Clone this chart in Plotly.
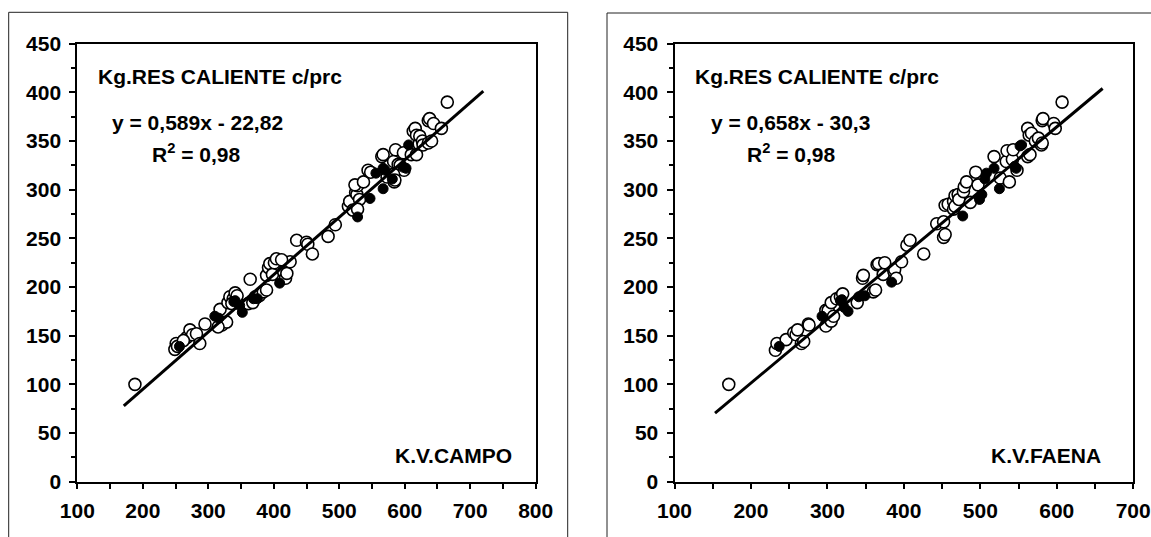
import plotly.graph_objects as go

# ---------------- data ----------------
# Left panel: K.V.CAMPO (x) vs Kg.RES CALIENTE c/prc (y)
campo_open_x = [188, 251, 249, 253, 267, 272, 276, 282, 287, 262, 295, 318, 321, 328, 315,
                330, 333, 338, 341, 343, 336, 344, 364, 361, 368, 372, 378, 384, 389,
                389, 392, 394, 398, 401, 404, 415, 418, 420, 425, 412, 435, 450, 452, 459,
                483, 494, 514, 516, 521, 525, 527, 528, 531, 528, 524,
                537, 544, 548, 565, 567, 573, 584, 583, 586, 590, 593, 598,
                599, 583, 585, 610, 618, 613, 616, 618, 622, 623, 627, 628, 636, 636,
                638, 641, 644, 656, 665]
campo_open_y = [100, 142, 136, 139, 148, 156, 151, 152, 142, 145, 162, 177, 161, 164, 159,
                184, 190, 188, 194, 187, 183, 191, 208, 183, 184, 190, 191, 195, 197,
                212, 220, 224, 213, 225, 229, 216, 209, 214, 226, 228, 248, 246, 244, 234,
                252, 264, 283, 288, 279, 297, 295, 304, 290, 280, 305,
                308, 320, 318, 334, 336, 313, 308, 329, 341, 326, 325, 338,
                320, 316, 310, 336, 336, 360, 363, 356, 347, 355, 350, 346, 348, 371,
                373, 350, 368, 363, 390]
campo_fill_x = [256, 310, 316, 339, 341, 348, 352, 375, 369, 409, 528, 547, 556, 567,
                567, 570, 581, 598, 602, 606]
campo_fill_y = [139, 170, 168, 185, 186, 181, 174, 188, 188, 204, 272, 291, 317, 301,
                322, 320, 311, 323, 322, 346]
campo_fit = dict(slope=0.589, intercept=-22.82, x_start=171, x_end=720)

# Right panel: K.V.FAENA (x) vs Kg.RES CALIENTE c/prc (y)
faena_open_x = [171, 232, 234, 246, 256, 259, 261, 266, 269, 275, 276, 298, 298, 301, 305,
                308, 305, 312, 317, 320, 339, 346, 347, 360, 363, 365, 367, 373, 375,
                387, 388, 390, 397, 404, 408, 426, 443, 452, 454, 452,
                454, 458, 465, 465, 467, 467, 471, 472, 478, 479, 482, 487, 494, 497,
                518, 526, 534, 535, 538, 542, 543, 548,
                562, 562, 564, 565, 567, 572, 576, 580, 581, 581, 582, 596, 598, 607]
faena_open_y = [100, 135, 142, 146, 153, 151, 156, 142, 144, 162, 161, 176, 160, 176, 165,
                170, 184, 188, 190, 193, 184, 209, 212, 195, 197, 223, 224, 213, 225,
                216, 218, 209, 226, 243, 248, 234, 265, 251, 254, 267,
                284, 285, 280, 288, 294, 283, 295, 290, 298, 303, 308, 287, 318, 305,
                334, 312, 329, 340, 308, 331, 341, 320,
                363, 334, 356, 336, 358, 350, 353, 346, 371, 348, 373, 368, 363, 390]
faena_fill_x = [237, 293, 317, 319, 322, 327, 341, 349, 384, 477, 499, 502, 506, 508,
                518, 525, 545, 547, 552, 554]
faena_fill_y = [139, 170, 186, 187, 179, 175, 190, 191, 205, 273, 290, 295, 311, 317,
                322, 301, 324, 322, 345, 346]
faena_fit = dict(slope=0.658, intercept=-30.3, x_start=153, x_end=660)

y_title = "Kg.RES CALIENTE c/prc"
eq_left = "y = 0,589x - 22,82"
eq_right = "y = 0,658x - 30,3"
r2_text = "R<sup>2</sup> = 0,98"
x_tick_left = [100, 200, 300, 400, 500, 600, 700, 800]
x_tick_right = [100, 200, 300, 400, 500, 600, 700]
y_ticks = [0, 50, 100, 150, 200, 250, 300, 350, 400, 450]

# ---------------- figure ----------------
W, H = 1151, 537
FONT = "Liberation Sans, Arial, sans-serif"


def fx(p):
    return p / W


def fy(p):
    return 1 - p / H


fig = go.Figure()


def add_panel(ox, oy, fxs, fys, fit, xa, ya):
    fig.add_trace(go.Scatter(x=ox, y=oy, mode="markers", xaxis=xa, yaxis=ya,
                             marker=dict(size=12, color="white",
                                         line=dict(color="black", width=1.6)),
                             showlegend=False, hoverinfo="x+y"))
    fig.add_trace(go.Scatter(x=fxs, y=fys, mode="markers", xaxis=xa, yaxis=ya,
                             marker=dict(size=10, color="black",
                                         line=dict(color="black", width=1)),
                             showlegend=False, hoverinfo="x+y"))
    lx = [fit["x_start"], fit["x_end"]]
    ly = [fit["slope"] * v + fit["intercept"] for v in lx]
    fig.add_trace(go.Scatter(x=lx, y=ly, mode="lines", xaxis=xa, yaxis=ya,
                             line=dict(color="black", width=3),
                             showlegend=False, hoverinfo="skip"))


add_panel(campo_open_x, campo_open_y, campo_fill_x, campo_fill_y, campo_fit, "x", "y")
add_panel(faena_open_x, faena_open_y, faena_fill_x, faena_fill_y, faena_fit, "x2", "y2")

ydom = [fy(481.7), fy(43.7)]
TICKFONT = dict(family=FONT, size=21, color="black", weight="bold")
axis_common = dict(showline=True, linewidth=2, linecolor="black", mirror=True,
                   showgrid=False, zeroline=False, ticks="outside", tickcolor="black",
                   tickwidth=1.5, automargin=False, ticklabelstandoff=4,
                   tickfont=TICKFONT)
minor_x = dict(dtick=50, ticklen=5, ticks="outside", tickcolor="black", tickwidth=1.5)
minor_y = dict(dtick=25, ticklen=4, ticks="outside", tickcolor="black", tickwidth=1.5)

fig.update_layout(
    template="none",
    width=W, height=H,
    margin=dict(l=0, r=0, t=0, b=0, pad=0, autoexpand=False),
    paper_bgcolor="white", plot_bgcolor="white",
    xaxis=dict(domain=[fx(77.3), fx(535.7)], range=[100, 800], tickvals=x_tick_left,
               ticklen=5, anchor="y", minor=minor_x, **axis_common),
    yaxis=dict(domain=ydom, range=[0, 450], tickvals=y_ticks, ticklen=6, anchor="x",
               minor=minor_y, **axis_common),
    xaxis2=dict(domain=[fx(674.5), fx(1133.2)], range=[100, 700], tickvals=x_tick_right,
                ticklen=5, anchor="y2", minor=minor_x, **axis_common),
    yaxis2=dict(domain=ydom, range=[0, 450], tickvals=y_ticks, ticklen=6, anchor="x2",
                minor=minor_y, **axis_common),
)

tf = dict(family=FONT, size=21, color="black", weight="bold")


def ann(text, x, y, xa, ya, xanchor):
    fig.add_annotation(text=text, x=x, y=y, xref=xa, yref=ya, xanchor=xanchor,
                       yanchor="middle", showarrow=False, font=tf)


ann(y_title, 128, 416, "x", "y", "left")
ann(eq_left, 283, 369, "x", "y", "center")
ann(r2_text, 281, 338, "x", "y", "center")
ann("K.V.CAMPO", 767, 27, "x", "y", "right")

ann(y_title, 124, 416, "x2", "y2", "left")
ann(eq_right, 252, 369, "x2", "y2", "center")
ann(r2_text, 252, 338, "x2", "y2", "center")
ann("K.V.FAENA", 661, 27, "x2", "y2", "right")

# outer chart frames
frame = dict(color="#222", width=1)
for (x0, y0, x1, y1) in [(8.7, 12.3, 567.7, 12.3), (8.7, 12.3, 8.7, 560),
                         (567.7, 12.3, 567.7, 560),
                         (607, 13, 1170, 13), (607, 13, 607, 560)]:
    fig.add_shape(type="line", xref="paper", yref="paper",
                  x0=fx(x0), y0=fy(y0), x1=fx(x1), y1=fy(y1), line=frame)

# remove the default page margin so the 1151x537 figure fills the window exactly
fig.write_html("out.html",
               config={"displayModeBar": False},
               post_script="document.body.style.margin='0';"
                           "document.body.style.overflow='hidden';")
